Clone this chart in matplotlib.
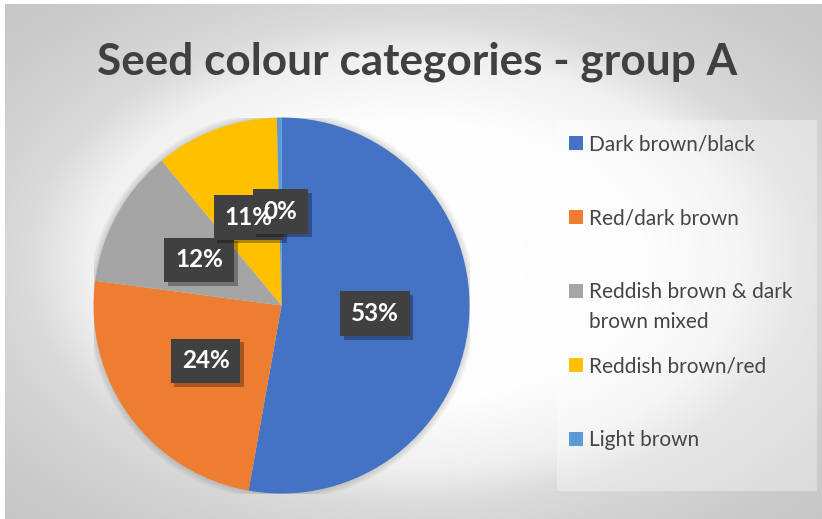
import numpy as np
import matplotlib
matplotlib.use("Agg")
import matplotlib.pyplot as plt
from matplotlib.patches import Rectangle, Circle
import matplotlib.patheffects as pe

# ---------------- data ----------------
categories = ["Dark brown/black", "Red/dark brown",
              "Reddish brown & dark\nbrown mixed", "Reddish brown/red", "Light brown"]
values = [52.8, 24.3, 11.9, 10.6, 0.4]
colors = ["#4472C4", "#ED7D31", "#A5A5A5", "#FFC000", "#5B9BD5"]
title = "Seed colour categories - group A"

W, H = 822, 519
plt.rcParams['font.family'] = ['Lato', 'DejaVu Sans']
fig = plt.figure(figsize=(W / 100, H / 100), dpi=100, facecolor='white')

def fx(px):
    return px / W

def fy(py):
    return 1 - py / H

# ---------------- background gradient ----------------
x0, y0 = 5, 4
bg = fig.add_axes([fx(x0), 0, 1 - fx(x0), fy(y0)])
bg.set_axis_off()
gw, gh = W - x0, H - y0
yy, xx = np.mgrid[0:gh, 0:gw]
cx, cy = gw / 2, gh / 2
t = np.sqrt(((xx - cx) / (gw / 2)) ** 2 + ((yy - cy) / (gh / 2)) ** 2)
val = np.interp(t, [0, 0.55, 0.8, 0.95, 1.2, 1.45], [255, 253, 240, 218, 205, 197]) / 255
img = np.dstack([val, val, val])
bg.imshow(img, aspect='auto', extent=[0, 1, 0, 1], interpolation='bilinear')
bg.set_xlim(0, 1)
bg.set_ylim(0, 1)

# ---------------- title ----------------
fig.text(fx(417), fy(75), title, ha='center', va='baseline',
         fontsize=31.8, fontweight='bold', color='#404040')

# ---------------- pie ----------------
pcx, pcy, R = 281.5, 305.5, 188
ax = fig.add_axes([fx(pcx - R), fy(pcy + R), 2 * R / W, 2 * R / H])
for k in range(1, 7):
    ax.add_patch(Circle((0, 0), 1 + 0.006 * k, color='black', alpha=0.025, lw=0, zorder=0))
wedges, texts, autotexts = ax.pie(values, colors=colors, startangle=90, counterclock=False,
                                  autopct='%1.0f%%', pctdistance=0.5,
                                  wedgeprops=dict(linewidth=0))
ax.set_xlim(-1, 1)
ax.set_ylim(-1, 1)
ax.set_aspect('equal')
ax.set_axis_off()

# label boxes (drawn beneath all label texts, like Excel)
for i, at in enumerate(autotexts):
    at.set_color('white')
    at.set_fontsize(17.5)
    at.set_fontweight('bold')
    at.set_zorder(10)
    x, y = at.get_position()
    box = ax.text(x, y, at.get_text(), ha='center', va='center', fontsize=17.5,
                  fontweight='bold', color=(1, 1, 1, 0), zorder=4 + i * 0.1)
    box.set_bbox(dict(boxstyle='square,pad=0.45', fc='#404040', ec='none'))
    box.get_bbox_patch().set_path_effects(
        [pe.SimplePatchShadow(offset=(2.5, -2.5), shadow_rgbFace='black', alpha=0.3), pe.Normal()])

# ---------------- legend ----------------
lx0, ly0, lx1, ly1 = 557, 120, 817, 491
fig.patches.append(Rectangle((fx(lx0), fy(ly1)), fx(lx1 - lx0), fy(ly0) - fy(ly1),
                             transform=fig.transFigure, facecolor='white', alpha=0.35,
                             edgecolor='none', zorder=1))
first_center = 142.7
step = 74
line_gap = 30
for i, (lab, col) in enumerate(zip(categories, colors)):
    yc = first_center + i * step
    fig.patches.append(Rectangle((fx(569), fy(yc + 7)), fx(14), fy(yc - 7) - fy(yc + 7),
                                 transform=fig.transFigure, facecolor=col, edgecolor='none',
                                 zorder=2))
    for j, line in enumerate(lab.split("\n")):
        fig.text(fx(589), fy(yc + 7.5 + j * line_gap), line, ha='left', va='baseline',
                 fontsize=15, color='#454545', zorder=3)

fig.savefig("out.png", dpi=100, facecolor='white')
